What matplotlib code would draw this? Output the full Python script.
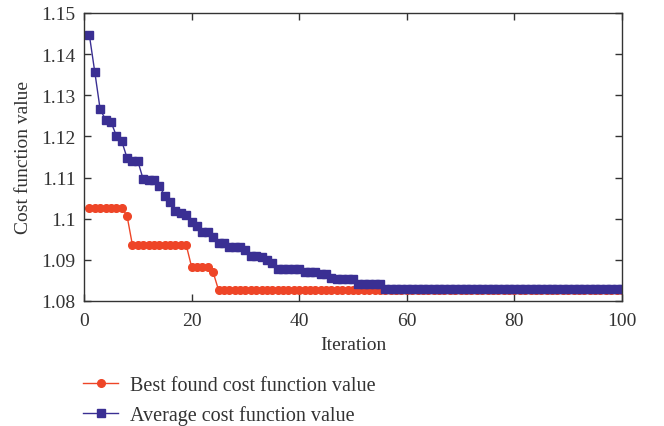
import matplotlib
matplotlib.use("Agg")
import matplotlib.pyplot as plt
import numpy as np

iterations = list(range(1, 101))

best_cost = ([1.1027] * 7 + [1.1007] + [1.0936] * 11 + [1.0883] * 4 + [1.0870]
             + [1.0827] * 76)

avg_cost = ([1.1446, 1.1357, 1.1266, 1.1241, 1.1236, 1.1202, 1.1189, 1.1148,
             1.1140, 1.1140, 1.1096, 1.1094, 1.1093, 1.1080, 1.1056, 1.1041,
             1.1019, 1.1015, 1.1010, 1.0991, 1.0983, 1.0968, 1.0968, 1.0955,
             1.0941, 1.0941, 1.0931, 1.0931, 1.0931, 1.0923, 1.0910, 1.0910,
             1.0908, 1.0900, 1.0892]
            + [1.0877] * 5 + [1.0870] * 3 + [1.0866] * 2 + [1.0857]
            + [1.0853] * 4 + [1.0841] * 5 + [1.0828] * 45)

x_ticks = [0, 20, 40, 60, 80, 100]
y_ticks = [1.08, 1.09, 1.10, 1.11, 1.12, 1.13, 1.14, 1.15]
y_tick_labels = ["1.08", "1.09", "1.1", "1.11", "1.12", "1.13", "1.14", "1.15"]

red = "#EE4527"
blue = "#3A2F93"

plt.rcParams['font.family'] = ['Liberation Serif', 'DejaVu Serif']
fig = plt.figure(figsize=(6.64, 4.27), dpi=100)
ax = fig.add_axes([84/664, 1-302/427, (622-84)/664, (302-14)/427])

l1, = ax.plot(iterations, best_cost, color=red, marker='o', markersize=5.5,
              linewidth=1.0, label="Best found cost function value")
l2, = ax.plot(iterations, avg_cost, color=blue, marker='s', markersize=5.2,
              linewidth=1.0, label="Average cost function value")

ax.set_xlim(0, 100)
ax.set_ylim(1.08, 1.15)
ax.set_xticks(x_ticks)
ax.set_yticks(y_ticks)
ax.set_yticklabels(y_tick_labels)
ax.tick_params(direction='in', length=5, width=1, labelsize=14, colors='#333333',
               top=True, right=True)
ax.tick_params(axis='x', pad=8)
ax.tick_params(axis='y', pad=6)
for s in ax.spines.values():
    s.set_color('#333333')
    s.set_linewidth(1.0)
ax.set_xlabel("Iteration", fontsize=14, color='#333333', labelpad=5)
ax.set_ylabel("Cost function value", fontsize=14, color='#333333', labelpad=7)

fig.legend(handles=[l1, l2], loc='upper left', bbox_to_anchor=(83/664, 1-377/427),
           frameon=False, fontsize=14.5, handlelength=1.75, handletextpad=0.6,
           borderpad=0, borderaxespad=0,
           labelspacing=0.52, labelcolor='#333333')

fig.savefig("out.png", dpi=100)
